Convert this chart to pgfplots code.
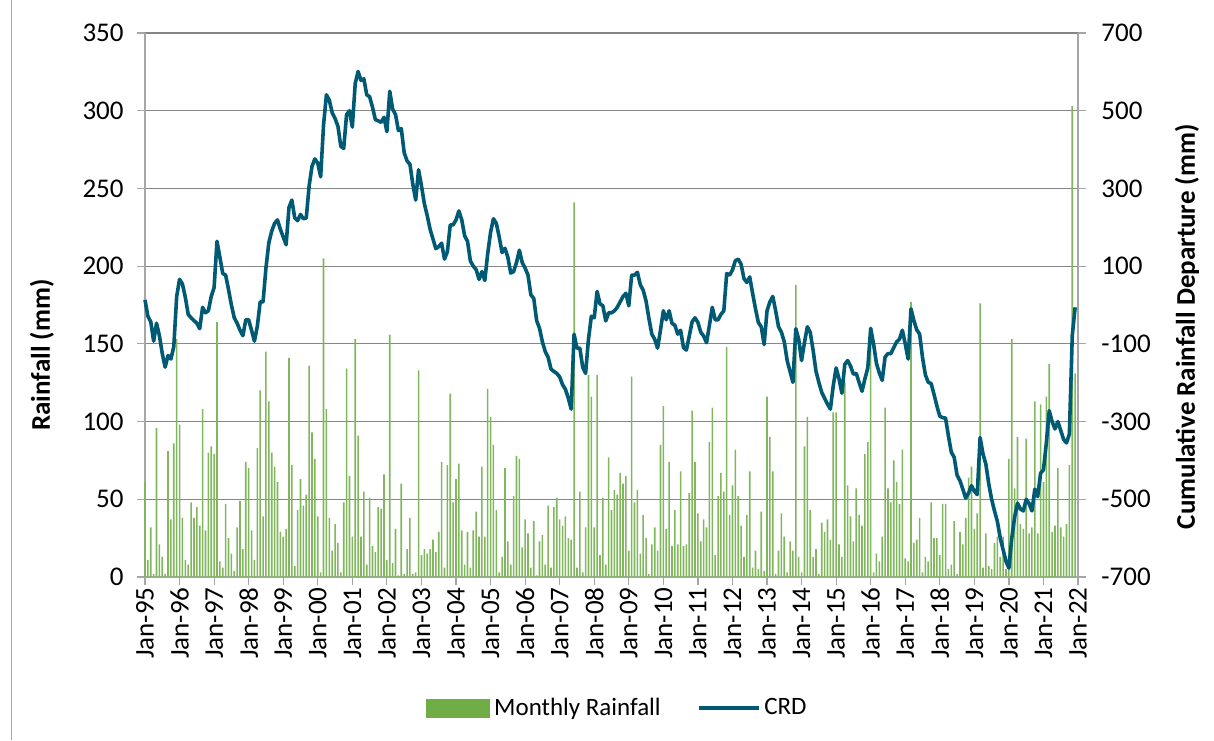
\documentclass[border=0pt]{standalone}
\usepackage{fontspec}
\setmainfont{Carlito}
\newfontfamily\tickfont{Carlito}
\usepackage{pgfplots}
\usepackage{pgfplotstable}
\pgfplotsset{compat=1.18}
\definecolor{barGreen}{RGB}{128,183,92}
\definecolor{legGreen}{RGB}{112,173,71}
\definecolor{crd}{RGB}{0,90,115}
\definecolor{gridc}{RGB}{134,134,134}
\definecolor{axc}{RGB}{166,166,166}

\pgfplotstableread{
m rain crd
0 61 13
1 11 -29
2 32 -43
3 2 -93
4 96 -47
5 21 -79
6 13 -125
7 2 -160
8 81 -130
9 37 -139
10 86 -107
11 153 22
12 98 66
13 38 54
14 11 20
15 8 -24
16 48 -33
17 38 -40
18 45 -47
19 33 -61
20 108 -6
21 30 -20
22 80 -15
23 84 22
24 79 45
25 164 164
26 10 123
27 6 81
28 47 77
29 25 40
30 15 0
31 4 -33
32 32 -47
33 49 -65
34 18 -79
35 74 -38
36 70 -38
37 30 -65
38 11 -93
39 83 -55
40 120 8
41 39 8
42 145 95
43 113 160
44 80 190
45 71 210
46 61 219
47 29 195
48 26 175
49 31 155
50 141 251
51 72 270
52 7 224
53 43 217
54 63 233
55 46 222
56 53 224
57 136 307
58 93 357
59 76 376
60 39 365
61 3 330
62 205 463
63 108 541
64 38 527
65 17 495
66 34 480
67 22 460
68 3 408
69 48 403
70 134 490
71 65 500
72 26 458
73 153 570
74 91 601
75 26 578
76 55 582
77 8 541
78 51 536
79 20 509
80 16 477
81 45 474
82 44 470
83 66 483
84 11 446
85 156 550
86 9 504
87 31 490
88 1 449
89 60 454
90 2 392
91 18 371
92 38 362
93 2 311
94 3 270
95 133 348
96 14 307
97 18 261
98 15 230
99 18 195
100 24 170
101 16 145
102 29 150
103 74 159
104 6 118
105 72 137
106 118 206
107 48 206
108 63 219
109 73 242
110 30 219
111 8 178
112 29 164
113 6 113
114 30 100
115 42 91
116 26 66
117 71 86
118 26 63
119 121 132
120 103 187
121 85 222
122 43 210
123 3 175
124 13 135
125 70 146
126 23 123
127 8 82
128 52 86
129 78 109
130 76 141
131 19 109
132 37 95
133 28 77
134 6 26
135 36 17
136 1 -40
137 23 -60
138 27 -95
139 8 -120
140 46 -135
141 6 -165
142 45 -171
143 51 -176
144 37 -185
145 33 -205
146 39 -217
147 25 -240
148 24 -268
149 241 -75
150 6 -111
151 55 -111
152 3 -160
153 32 -176
154 130 -88
155 116 -29
156 32 -33
157 130 35
158 14 3
159 51 -2
160 8 -41
161 77 -20
162 43 -20
163 56 -15
164 53 -6
165 67 8
166 60 22
167 65 30
168 17 -2
169 129 77
170 48 77
171 56 84
172 15 52
173 40 38
174 25 10
175 2 -35
176 21 -75
177 32 -88
178 17 -111
179 85 -65
180 110 -15
181 31 -38
182 74 -15
183 20 -47
184 43 -52
185 21 -75
186 68 -65
187 20 -110
188 21 -116
189 54 -80
190 107 -43
191 74 -33
192 41 -45
193 23 -70
194 37 -80
195 32 -97
196 87 -52
197 109 -6
198 14 -38
199 52 -38
200 67 -24
201 55 -15
202 148 81
203 40 77
204 59 90
205 82 114
206 52 118
207 33 105
208 13 68
209 40 58
210 68 72
211 6 30
212 17 -10
213 5 -45
214 42 -56
215 4 -102
216 116 -15
217 90 8
218 68 22
219 2 -15
220 17 -56
221 41 -70
222 26 -95
223 3 -143
224 23 -171
225 17 -199
226 188 -61
227 13 -88
228 3 -143
229 84 -97
230 103 -56
231 43 -70
232 13 -116
233 18 -170
234 2 -199
235 35 -225
236 29 -240
237 37 -255
238 24 -268
239 106 -208
240 106 -162
241 21 -190
242 13 -227
243 125 -153
244 59 -143
245 39 -157
246 23 -178
247 57 -176
248 40 -200
249 33 -222
250 79 -190
251 87 -162
252 160 -60
253 3 -100
254 15 -150
255 10 -175
256 26 -194
257 109 -134
258 57 -125
259 48 -125
260 75 -110
261 61 -95
262 47 -88
263 82 -65
264 12 -100
265 10 -139
266 177 -10
267 22 -40
268 24 -64
269 38 -75
270 3 -135
271 13 -180
272 10 -199
273 48 -202
274 25 -230
275 25 -260
276 14 -286
277 47 -290
278 47 -291
279 5 -337
280 8 -379
281 36 -392
282 2 -438
283 29 -452
284 21 -474
285 38 -497
286 64 -484
287 71 -465
288 31 -479
289 41 -488
290 176 -341
291 6 -383
292 28 -410
293 7 -460
294 5 -500
295 22 -530
296 26 -557
297 13 -600
298 26 -630
299 5 -660
300 76 -677
301 153 -600
302 57 -545
303 90 -510
304 34 -525
305 31 -530
306 89 -500
307 28 -511
308 32 -530
309 113 -474
310 28 -493
311 111 -433
312 61 -424
313 116 -355
314 137 -272
315 29 -300
316 33 -319
317 70 -300
318 32 -323
319 26 -346
320 34 -355
321 72 -332
322 303 -79
323 131 -6
}\datatable

\begin{document}
\begin{tikzpicture}[x=1pt,y=1pt]
\path[use as bounding box] (0,0) rectangle (607,370);
\draw[axc, line width=0.5pt] (5.5,0) -- (5.5,370);
\begin{axis}[
  at={(72.5pt,81.5pt)}, anchor=south west,
  width=466.5pt, height=272pt, scale only axis,
  xmin=0, xmax=324, ymin=0, ymax=350,
  axis y line*=left, axis x line*=bottom,
  axis line style={axc, line width=0.6pt},
  every tick/.style={axc, line width=0.6pt},
  tick align=outside, major tick length=4pt,
  xtick={0,12,...,324},
  xticklabels={Jan-95,Jan-96,Jan-97,Jan-98,Jan-99,Jan-00,Jan-01,Jan-02,Jan-03,Jan-04,Jan-05,Jan-06,Jan-07,Jan-08,Jan-09,Jan-10,Jan-11,Jan-12,Jan-13,Jan-14,Jan-15,Jan-16,Jan-17,Jan-18,Jan-19,Jan-20,Jan-21,Jan-22},
  xticklabel style={rotate=90, anchor=east, font=\tickfont\fontsize{13.5}{14}\selectfont, inner sep=1pt},
  ytick={0,50,...,350},
  yticklabels={0,50,100,150,200,250,300,350},
  yticklabel style={font=\tickfont\fontsize{13.5}{14}\selectfont, inner sep=1pt, xshift=-5.5pt},
  ymajorgrids, grid style={gridc, line width=0.6pt},
  ylabel={Rainfall (mm)},
  ylabel style={font=\fontsize{13.5}{16}\selectfont\bfseries, at={(axis description cs:-0.1104,0.408)}, anchor=center},
  clip=false,
]
\addplot[ybar, bar width=0.8pt, fill=barGreen, draw=none] table[x=m,y=rain]{\datatable};
\end{axis}
\begin{axis}[
  at={(72.5pt,81.5pt)}, anchor=south west,
  width=466.5pt, height=272pt, scale only axis,
  xmin=0, xmax=324, ymin=-700, ymax=700,
  axis y line*=right, axis x line=none,
  axis line style={axc, line width=0.6pt},
  every tick/.style={axc, line width=0.6pt},
  tick align=outside, major tick length=4pt,
  ytick={-700,-500,-300,-100,100,300,500,700},
  yticklabels={-700,-500,-300,-100,100,300,500,700},
  yticklabel style={font=\tickfont\fontsize{13.5}{14}\selectfont, inner sep=1pt, xshift=6.5pt},
  ylabel={Cumulative Rainfall Departure (mm)},
  ylabel style={font=\fontsize{13.5}{16}\selectfont\bfseries, at={(axis description cs:1.1168,0.46)}, anchor=center},
  legend columns=2,
  legend style={draw=none, fill=none, at={(axis description cs:0.5075,-0.2408)}, anchor=center,
    font=\tickfont\fontsize{12.5}{14}\selectfont,
    /tikz/every even column/.append style={column sep=16pt}},
  clip=false,
]
\addlegendimage{legend image code/.code={\fill[legGreen] (0pt,-4.5pt) rectangle (31.5pt,4.5pt);}}
\addlegendentry{Monthly Rainfall}
\addplot[crd, line width=1.8pt, line join=round, mark=none,
  legend image code/.code={\draw[crd, line width=1.8pt] (0pt,0pt) -- (30pt,0pt);}]
  table[x=m,y=crd]{\datatable};
\addlegendentry{CRD}
\end{axis}
\end{tikzpicture}
\end{document}
